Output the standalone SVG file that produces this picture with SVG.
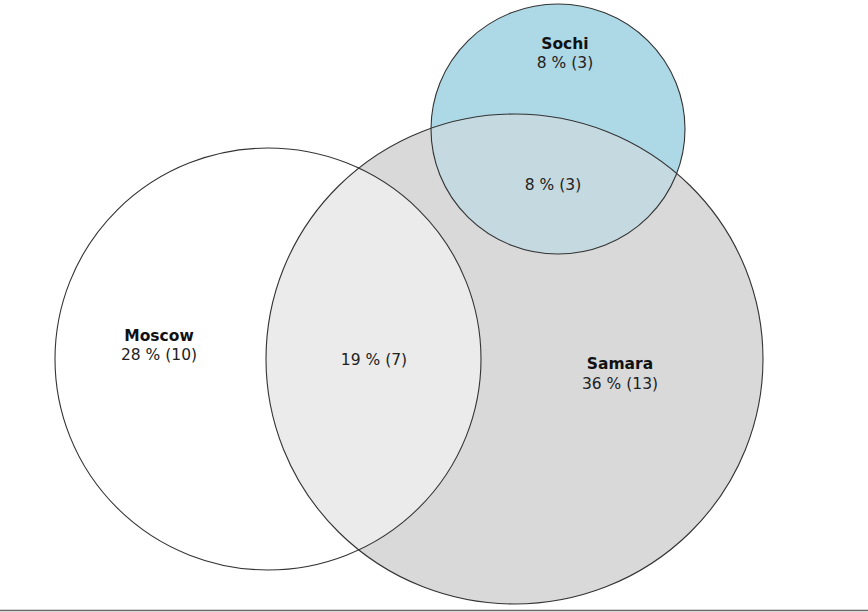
<svg xmlns="http://www.w3.org/2000/svg" width="868" height="612" viewBox="0 0 868 612">
<style>
.o{fill:none;stroke:#333;stroke-width:1.1}
text{font-family:"DejaVu Sans",sans-serif;font-size:15.5px;fill:#222;text-anchor:middle}
.b{font-weight:bold;fill:#111}
</style>
<defs>
<clipPath id="cSam"><ellipse cx="514.5" cy="359" rx="248.5" ry="245"/></clipPath>
</defs>
<rect width="868" height="612" fill="#fff"/>
<g id="samara">
<ellipse cx="514.5" cy="359" rx="248.5" ry="245" fill="#d9d9d9"/>
</g>
<g id="moscow">
<ellipse cx="268" cy="359" rx="213" ry="211" fill="#fff"/>
<ellipse cx="268" cy="359" rx="213" ry="211" fill="#ebebeb" clip-path="url(#cSam)"/>
</g>
<g id="sochi">
<ellipse cx="558" cy="129" rx="127" ry="125" fill="#add8e6"/>
<ellipse cx="558" cy="129" rx="127" ry="125" fill="#c5d9e0" clip-path="url(#cSam)"/>
</g>
<g id="outlines">
<ellipse class="o" cx="514.5" cy="359" rx="248.5" ry="245"/>
<ellipse class="o" cx="268" cy="359" rx="213" ry="211"/>
<ellipse class="o" cx="558" cy="129" rx="127" ry="125"/>
</g>
<g id="labels">
<text class="b" x="565" y="49">Sochi</text>
<text x="565" y="68">8 % (3)</text>
<text x="553" y="190">8 % (3)</text>
<text class="b" x="159" y="341">Moscow</text>
<text x="159" y="360">28 % (10)</text>
<text x="374" y="365">19 % (7)</text>
<text class="b" x="620" y="369">Samara</text>
<text x="620" y="389">36 % (13)</text>
</g>
<line x1="0" y1="610.5" x2="868" y2="610.5" stroke="#666" stroke-width="1.5"/>
</svg>
